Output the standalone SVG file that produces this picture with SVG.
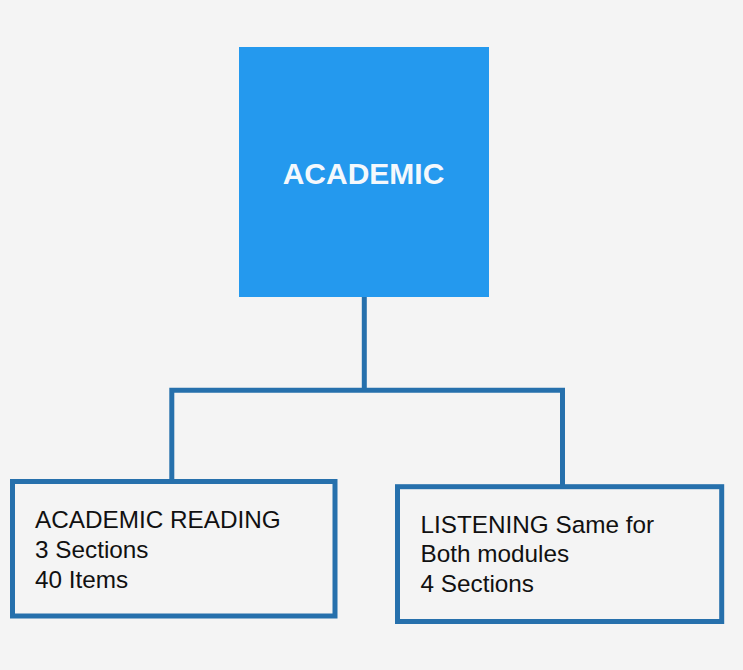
<svg xmlns="http://www.w3.org/2000/svg" width="743" height="670" viewBox="0 0 743 670">
<style>
.bg{fill:#f4f4f4}
.top{fill:#2499ee}
.title{font-family:"Liberation Sans",Arial,sans-serif;font-weight:bold;font-size:30px;fill:#f4f8fc;text-anchor:middle}
.box{fill:#f4f4f4;stroke:#2670ac;stroke-width:5}
.lbl{font-family:"Liberation Sans",Arial,sans-serif;font-size:24.3px;fill:#111111}
.conn{fill:none;stroke:#2670ac;stroke-width:5}
</style>
<rect class="bg" x="0" y="0" width="743" height="670"/>
<g id="connectors">
<path class="conn" d="M364.3 297 V390.3"/>
<path class="conn" d="M171.8 481 V390.3 H562.5 V486"/>
</g>
<g id="academic">
<rect class="top" x="239" y="47" width="250" height="250"/>
<text class="title" x="363.5" y="183.5">ACADEMIC</text>
</g>
<g id="reading">
<rect class="box" x="12.5" y="481.5" width="322.5" height="134.5"/>
<text class="lbl" x="35" y="527.5">ACADEMIC READING</text>
<text class="lbl" x="35" y="557.5">3 Sections</text>
<text class="lbl" x="35" y="587.5">40 Items</text>
</g>
<g id="listening">
<rect class="box" x="397.5" y="486.7" width="324.2" height="134.8"/>
<text class="lbl" x="420.5" y="532.5">LISTENING Same for</text>
<text class="lbl" x="420.5" y="562">Both modules</text>
<text class="lbl" x="420.5" y="592">4 Sections</text>
</g>
</svg>
